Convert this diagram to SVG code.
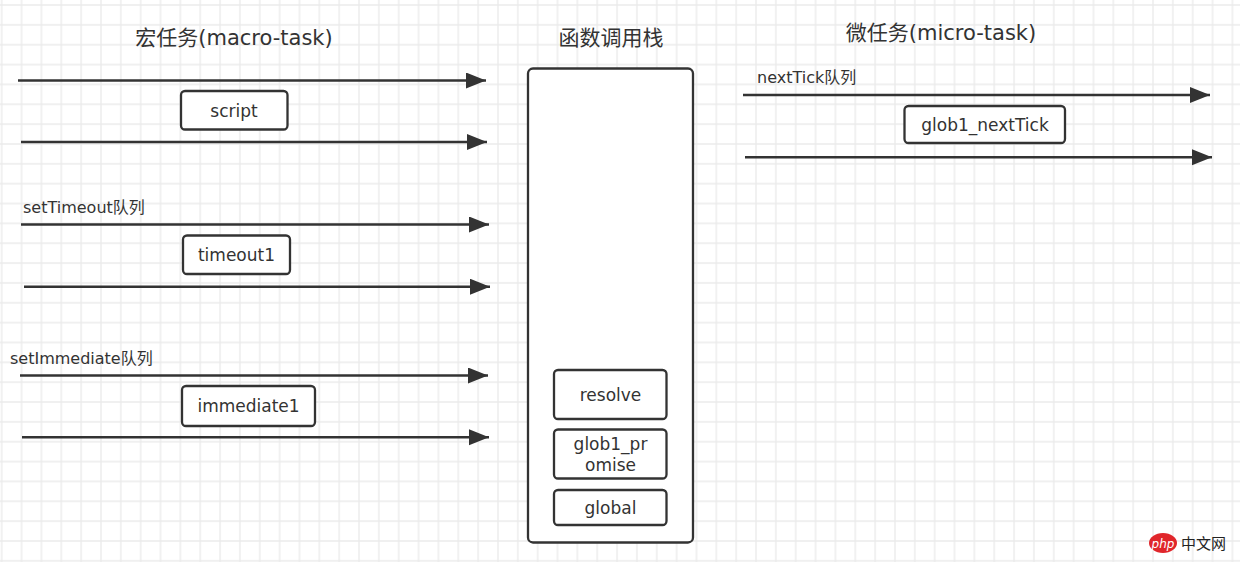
<svg xmlns="http://www.w3.org/2000/svg" width="1240" height="562" viewBox="0 0 1240 562">
<defs>
<pattern id="grid" patternUnits="userSpaceOnUse" x="-8.2" y="-4.9" width="19.85" height="19.85">
<path d="M9.925 0 V19.85 M0 9.925 H19.85" stroke="#ebebeb" stroke-width="1.4" fill="none"/>
</pattern>
<marker id="arr" markerUnits="userSpaceOnUse" markerWidth="22" markerHeight="18" refX="20" refY="8" orient="auto">
<path d="M0 0 L20 8 L0 16 Z" fill="#333"/>
</marker>
</defs>
<style>
.t{font-family:"DejaVu Sans","Noto Sans CJK SC",sans-serif;fill:#333;}
.title{font-size:21px;text-anchor:middle;}
.lbl{font-size:16px;}
.node{font-size:17px;text-anchor:middle;}
.box{fill:#fff;stroke:#333;stroke-width:2.3;}
.conn{stroke:#333;stroke-width:2.5;fill:none;marker-end:url(#arr);}
</style>
<rect width="1240" height="562" fill="#fff"/>
<rect width="1240" height="562" fill="url(#grid)"/>

<text class="t title" x="234" y="45">宏任务(macro-task)</text>
<text class="t title" x="611" y="45">函数调用栈</text>
<text class="t title" x="941" y="40">微任务(micro-task)</text>

<text class="t lbl" x="23" y="213">setTimeout队列</text>
<text class="t lbl" x="10" y="364">setImmediate队列</text>
<text class="t lbl" x="757" y="83">nextTick队列</text>

<g id="connectors">
<path class="conn" d="M18 80.5 H486"/>
<path class="conn" d="M21 142 H487"/>
<path class="conn" d="M21 224.5 H489"/>
<path class="conn" d="M24 286.7 H490"/>
<path class="conn" d="M20 375.5 H488"/>
<path class="conn" d="M22 437.3 H489"/>
<path class="conn" d="M743 95 H1210"/>
<path class="conn" d="M745 157.3 H1212"/>
</g>

<g id="script">
<rect class="box" x="181" y="91" width="106.5" height="38.5" rx="4"/>
<text class="t node" x="234" y="117">script</text>
</g>
<g id="timeout1">
<rect class="box" x="183" y="235.5" width="107" height="38.5" rx="4"/>
<text class="t node" x="236.5" y="261">timeout1</text>
</g>
<g id="immediate1">
<rect class="box" x="182" y="386" width="133" height="40" rx="4"/>
<text class="t node" x="248.5" y="412">immediate1</text>
</g>
<g id="stack">
<rect class="box" x="528" y="68.5" width="165" height="474" rx="5"/>
</g>
<g id="resolve">
<rect class="box" x="554" y="370" width="112.5" height="49" rx="4"/>
<text class="t node" x="610.5" y="401">resolve</text>
</g>
<g id="glob1_promise">
<rect class="box" x="554" y="429.5" width="112.5" height="49" rx="4"/>
<text class="t node" x="610.5" y="450">glob1_pr</text>
<text class="t node" x="610.5" y="471">omise</text>
</g>
<g id="global">
<rect class="box" x="554" y="490" width="112.5" height="35" rx="4"/>
<text class="t node" x="610.5" y="514">global</text>
</g>
<g id="glob1_nextTick">
<rect class="box" x="904.5" y="106" width="160.5" height="37" rx="4"/>
<text class="t node" x="985" y="131">glob1_nextTick</text>
</g>

<g id="watermark">
<ellipse cx="1163" cy="543" rx="14" ry="10" fill="#e0262b"/>
<text x="1163" y="547.5" font-family="DejaVu Sans, sans-serif" font-size="12" font-style="italic" fill="#fff" text-anchor="middle">php</text>
<text x="1181" y="549" font-family="Noto Sans CJK SC, sans-serif" font-size="15" fill="#222">中文网</text>
</g>
</svg>
